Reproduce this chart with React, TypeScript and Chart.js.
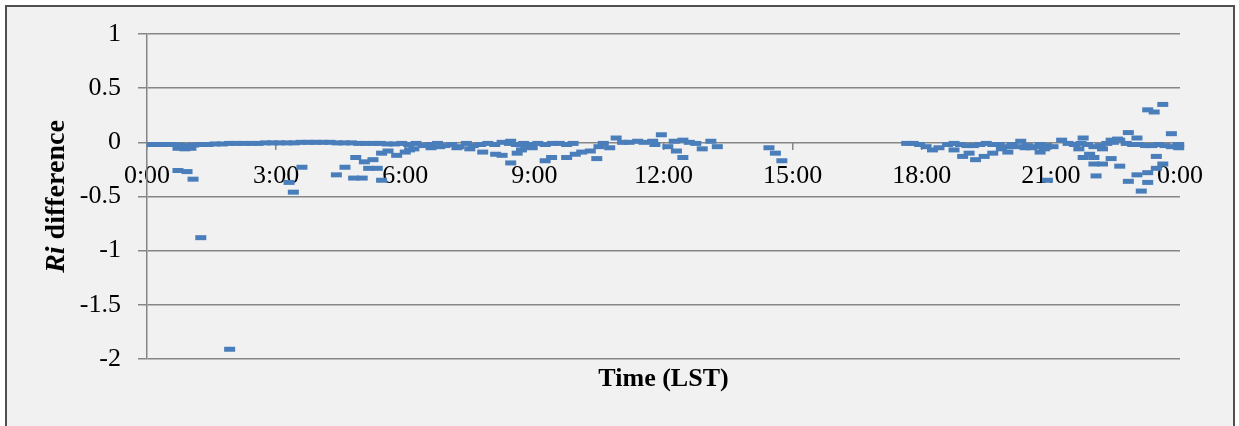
import React, { useEffect, useRef } from "react";
import { Chart, registerables } from "chart.js";

Chart.register(...registerables);

// ---- Data (hours since 0:00 LST, Ri difference) ----
const xTickLabels = ["0:00", "3:00", "6:00", "9:00", "12:00", "15:00", "18:00", "21:00", "0:00"];
const yTickValues = [-2, -1.5, -1, -0.5, 0, 0.5, 1];
const xTitle = "Time (LST)";
const yTitleItalic = "Ri";
const yTitleRest = " difference";

// near-zero band, 0:00 - 10:00
const morningHours = [
  0.12, 0.25, 0.42, 0.58, 0.75, 0.92,
  1.08, 1.25, 1.42, 1.58, 1.75, 1.92,
  2.08, 2.25, 2.42, 2.58, 2.75, 2.92,
  3.08, 3.25, 3.42, 3.58, 3.75, 3.92,
  4.08, 4.25, 4.42, 4.58, 4.75, 4.92,
  5.08, 5.25, 5.42, 5.58, 5.75, 5.92,
  6.08, 6.25, 6.42, 6.58, 6.75, 6.92,
  7.08, 7.25, 7.42, 7.58, 7.75, 7.92,
  8.08, 8.25, 8.42, 8.58, 8.75, 8.92,
  9.08, 9.25, 9.42, 9.58, 9.75, 9.9,
];
const morningRi = [
  -0.02, -0.02, -0.02, -0.02, -0.025, -0.03,
  -0.025, -0.02, -0.02, -0.015, -0.015, -0.01,
  -0.01, -0.01, -0.01, -0.01, -0.005, -0.005,
  -0.005, -0.005, -0.005, 0, 0, 0,
  0, 0, -0.005, -0.005, -0.005, -0.01,
  -0.01, -0.01, -0.01, -0.015, -0.015, -0.01,
  -0.02, -0.01, -0.03, -0.02, -0.01, -0.03,
  -0.02, -0.04, -0.01, -0.03, -0.02, -0.01,
  -0.02, 0.0, -0.01, -0.02, -0.01, -0.02,
  -0.01, -0.02, -0.01, -0.01, -0.02, -0.01,
];

// scattered values, 0:00 - 15:00
const dayHours = [
  0.72, 0.88, 1.02,
  0.72, 0.93, 1.07, 1.25, 1.92,
  3.3, 3.4, 3.6,
  4.4, 4.6, 4.85, 4.8, 5.0, 5.05, 5.15, 5.25, 5.35, 5.45, 5.45, 5.6, 5.8,
  6.0, 6.1, 6.2, 6.6, 6.8,
  7.2, 7.5, 7.8, 8.1, 8.25, 8.45, 8.45, 8.6, 8.7, 8.8, 8.95,
  9.25, 9.4, 9.75, 9.95, 10.1, 10.3, 10.45, 10.5, 10.6, 10.75, 10.9,
  11.05, 11.2, 11.4, 11.55, 11.75, 11.8, 11.95,
  12.1, 12.25, 12.3, 12.45, 12.45, 12.6, 12.75, 12.9, 13.1, 13.25,
  14.45, 14.6, 14.75,
];
const dayRi = [
  -0.055, -0.06, -0.055,
  -0.26, -0.27, -0.34, -0.88, -1.91,
  -0.37, -0.46, -0.23,
  -0.30, -0.23, -0.14, -0.33, -0.33, -0.18, -0.24, -0.16, -0.24, -0.10, -0.35, -0.08, -0.12,
  -0.09, -0.07, -0.06, -0.05, -0.04,
  -0.05, -0.06, -0.09, -0.11, -0.12, -0.19, 0.01, -0.10, -0.07, -0.03, -0.05,
  -0.17, -0.14, -0.14, -0.11, -0.09, -0.08, -0.15, -0.04, -0.01, -0.05, 0.04,
  0.0, 0.0, 0.01, 0.0, 0.01, -0.02, 0.07,
  -0.04, 0.01, -0.08, -0.14, 0.02, 0.0, -0.01, -0.06, 0.01, -0.04,
  -0.05, -0.10, -0.17,
];

// near-zero band, 17:40 - 24:00
const eveningHours = [
  17.65, 17.8, 17.95, 18.1, 18.25, 18.4,
  18.6, 18.75, 18.9, 19.05, 19.2, 19.35,
  19.5, 19.65, 19.8, 19.95, 20.1, 20.3,
  20.45, 20.6, 20.75, 20.9, 21.05, 21.25,
  21.4, 21.55, 21.7, 21.85, 22.0, 22.15,
  22.3, 22.45, 22.6, 22.75, 22.9, 23.05,
  23.2, 23.35, 23.5, 23.65, 23.8, 23.95,
];
const eveningRi = [
  -0.01, -0.01, -0.02, -0.04, -0.07, -0.05,
  -0.02, -0.01, -0.02, -0.03, -0.03, -0.02,
  -0.01, -0.02, -0.02, -0.04, -0.02, 0.01,
  -0.03, -0.04, -0.02, -0.03, -0.04, 0.02,
  -0.01, -0.02, -0.01, -0.02, -0.04, -0.03,
  -0.01, 0.0, 0.02, -0.01, -0.02, -0.02,
  -0.03, -0.03, -0.02, -0.03, -0.04, -0.03,
];

// scattered values, 18:00 - 24:00
const nightHours = [
  18.75, 18.95, 19.1, 19.25, 19.45, 19.65, 19.85, 20.0, 20.2, 20.4, 20.55, 20.75, 20.85, 20.92,
  21.65, 21.75, 21.75, 21.9, 22.0, 22.05, 22.0, 22.2, 22.2, 22.4, 22.4, 22.55, 22.6,
  22.8, 22.8, 23.0, 23.0, 23.1, 23.25, 23.4, 23.6, 23.25, 23.25, 23.45, 23.45, 23.6, 23.8,
  23.97, 23.97,
];
const nightRi = [
  -0.07, -0.13, -0.10, -0.16, -0.13, -0.10, -0.06, -0.09, -0.04, -0.05, -0.05, -0.09, -0.06, -0.35,
  -0.06, 0.04, -0.14, -0.11, -0.14, -0.31, -0.20, -0.20, -0.06, -0.15, 0.02, 0.03, -0.22,
  0.09, -0.36, -0.30, 0.04, -0.45, 0.30, 0.28, 0.35, -0.28, -0.37, -0.13, -0.24, -0.20, 0.08,
  -0.05, -0.02,
];

const FONT = '"Liberation Serif", "Times New Roman", serif';
const GRID = "#868686";
const MARK = "#4a7ebb";

function pts(h: number[], v: number[]) {
  return h.map((x, i) => ({ x, y: v[i] }));
}

const yTitlePlugin = {
  id: "yTitleMixed",
  afterDraw(chart: any) {
    const { ctx, chartArea } = chart;
    const cy = (chartArea.top + chartArea.bottom) / 2;
    const f1 = `italic bold 28px ${FONT}`;
    const f2 = `bold 28px ${FONT}`;
    ctx.save();
    ctx.translate(57, cy);
    ctx.rotate(-Math.PI / 2);
    ctx.textBaseline = "middle";
    ctx.textAlign = "left";
    ctx.fillStyle = "#000";
    ctx.font = f1;
    const w1 = ctx.measureText(yTitleItalic).width;
    ctx.font = f2;
    const w2 = ctx.measureText(yTitleRest).width;
    const x0 = -(w1 + w2) / 2;
    ctx.font = f1;
    ctx.fillText(yTitleItalic, x0, 0);
    ctx.font = f2;
    ctx.fillText(yTitleRest, x0 + w1, 0);
    ctx.restore();
  },
};

export default function App() {
  const ref = useRef<HTMLCanvasElement | null>(null);

  useEffect(() => {
    if (!ref.current) return;
    const ds = (data: any[]) => ({
      data,
      pointStyle: "line",
      pointRadius: 5.5,
      pointBorderWidth: 5,
      pointBorderColor: MARK,
      pointBackgroundColor: MARK,
      borderColor: MARK,
      backgroundColor: MARK,
      showLine: false,
      clip: false,
    });
    const chart = new Chart(ref.current, {
      type: "scatter",
      data: {
        datasets: [
          ds(pts(morningHours, morningRi)),
          ds(pts(dayHours, dayRi)),
          ds(pts(eveningHours, eveningRi)),
          ds(pts(nightHours, nightRi)),
        ],
      },
      options: {
        animation: false,
        responsive: false,
        devicePixelRatio: 1,
        events: [],
        layout: { padding: { left: 0, right: 59, top: 34, bottom: 30.8 } },
        plugins: {
          legend: { display: false },
          tooltip: { enabled: false },
          title: {
            display: true,
            text: xTitle,
            position: "bottom",
            fullSize: false,
            color: "#000",
            font: { family: FONT, size: 26, weight: "bold" },
            padding: { top: 5, bottom: 0 },
          },
        },
        scales: {
          x: {
            type: "linear",
            min: 0,
            max: 24,
            position: { y: 0 } as any,
            grid: {
              drawOnChartArea: false,
              drawTicks: true,
              tickLength: 8,
              color: GRID,
              lineWidth: 1.5,
            },
            border: { display: false },
            ticks: {
              stepSize: 3,
              autoSkip: false,
              maxRotation: 0,
              padding: 10,
              color: "#000",
              font: { family: FONT, size: 26 },
              callback: (v: any) => xTickLabels[Math.round(Number(v) / 3)] ?? "",
            },
          },
          y: {
            type: "linear",
            min: -2,
            max: 1,
            position: "left",
            afterFit: (s: any) => {
              s.width = 147;
            },
            afterBuildTicks: (s: any) => {
              s.ticks = yTickValues.map((value) => ({ value }));
            },
            grid: {
              color: GRID,
              lineWidth: 1.5,
              drawTicks: true,
              tickLength: 9,
            },
            border: { display: true, color: GRID, width: 1.5 },
            ticks: {
              padding: 17,
              color: "#000",
              font: { family: FONT, size: 26 },
              callback: (v: any) => String(v),
            },
          },
        },
      },
      plugins: [yTitlePlugin],
    } as any);
    return () => chart.destroy();
  }, []);

  return (
    <div
      style={{
        position: "fixed",
        left: 0,
        top: 0,
        width: 1239,
        height: 426,
        background: "#ffffff",
        overflow: "hidden",
      }}
    >
      <div
        style={{
          position: "absolute",
          left: 5,
          top: 5,
          width: 1230,
          height: 440,
          boxSizing: "border-box",
          background: "#f1f1f1",
          borderTop: "2px solid #505050",
          borderLeft: "2px solid #505050",
          borderRight: "2px solid #505050",
        }}
      />
      <canvas
        ref={ref}
        width={1239}
        height={426}
        style={{ position: "absolute", left: 0, top: 0, width: 1239, height: 426 }}
      />
    </div>
  );
}
